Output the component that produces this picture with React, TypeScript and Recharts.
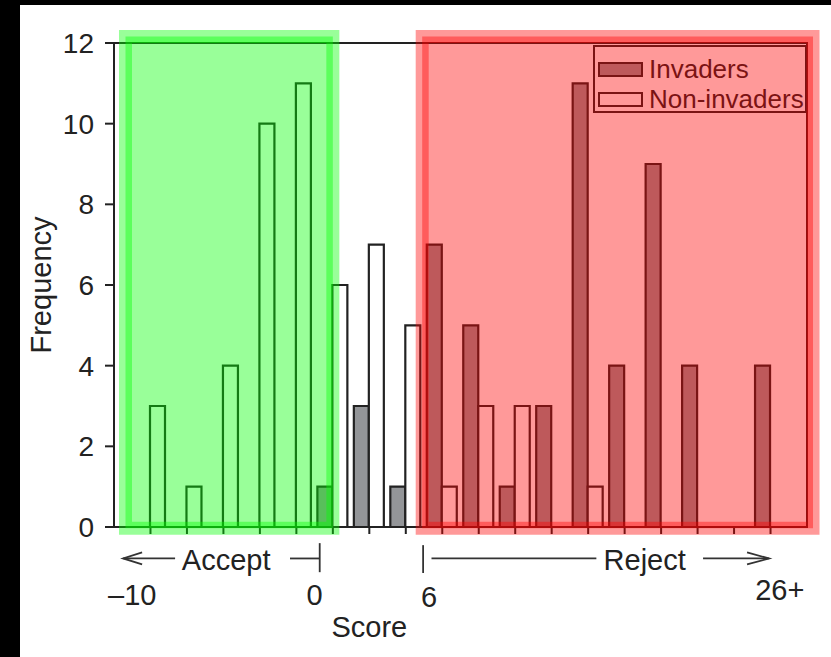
import React from 'react';
import { BarChart, Bar, XAxis, YAxis, Legend, ReferenceArea, ReferenceLine, ReferenceDot } from 'recharts';

const FONT = '"Liberation Sans", Arial, Helvetica, sans-serif';
const INK = '#222';
const NOTE_INK = '#333';

// histogram bins (centre of each 2-point score bin)
const binCenters = [-9, -7, -5, -3, -1, 1, 3, 5, 7, 9, 11, 13, 15, 17, 19, 21, 23, 25];
const invaders = [0, 0, 0, 0, 0, 1, 3, 1, 7, 5, 1, 3, 11, 4, 9, 4, 0, 4];
const nonInvaders = [3, 1, 4, 10, 11, 6, 7, 5, 1, 3, 3, 0, 1, 0, 0, 0, 0, 0];

const seriesNames = ['Invaders', 'Non-invaders'];
const seriesFills = ['#939598', '#ffffff'];

const scoreDomain = [-11, 27];
const scoreTicks = [-10, 0, 6, 26];
const scoreTickLabels = ['–10', '0', '6', '26+'];
const freqTicks = [0, 2, 4, 6, 8, 10, 12];

// shaded decision regions: [x1, x2, y1, y2]
const acceptRegion = [-10.37, 1.0, -0.03, 12.16];
const rejectRegion = [5.9, 27.33, -0.03, 12.16];

// bracket lines under the axis: [x1, y1, x2, y2]
const noteSegments = [
  [-10.5, -0.78, -7.65, -0.78],
  [-1.35, -0.78, 0.28, -0.78],
  [0.28, -0.4, 0.28, -1.12],
  [5.95, -0.45, 5.95, -1.14],
  [6.41, -0.78, 15.45, -0.78],
  [21.3, -0.78, 24.92, -0.78],
];
const noteHeads = ['start', 'none', 'none', 'none', 'none', 'end'];

const noteTexts = ['Accept', 'Reject', 'Score'];
const noteTextX = [-4.85, 18.1, 3];
const noteTextY = [-0.82, -0.82, -2.48];

const data = binCenters.map((bin, i) => ({ bin, invaders: invaders[i], nonInvaders: nonInvaders[i] }));

const tickNudge = [
  { dx: 0, dy: 0 },
  { dx: 0, dy: 0 },
  { dx: 5, dy: 2 },
  { dx: -9, dy: -5 },
];

const ScoreTick = ({ x, y, payload }: any) => {
  const i = scoreTicks.indexOf(payload.value);
  if (i < 0) return null;
  return (
    <text
      x={x + tickNudge[i].dx}
      y={y + tickNudge[i].dy}
      dy="0.71em"
      textAnchor="middle"
      fill={INK}
      fontSize={29}
      fontFamily={FONT}
    >
      {scoreTickLabels[i]}
    </text>
  );
};

const FreqLabel = ({ viewBox }: any) => {
  const cx = viewBox.x + 31;
  const cy = viewBox.y + viewBox.height / 2;
  return (
    <text
      x={cx}
      y={cy}
      transform={`rotate(-90 ${cx} ${cy})`}
      textAnchor="middle"
      fill={INK}
      fontSize={29}
      fontFamily={FONT}
    >
      Frequency
    </text>
  );
};

const bracketShape = (head: string) => (p: any) => {
  const { x1, y1, x2, y2 } = p;
  const arms: string[] = [];
  if (head === 'start') arms.push(`M${x1 + 19},${y1 - 6}L${x1},${y1}L${x1 + 19},${y1 + 6}`);
  if (head === 'end') arms.push(`M${x2 - 22},${y2 - 6}L${x2},${y2}L${x2 - 22},${y2 + 6}`);
  return (
    <g>
      <line x1={x1} y1={y1} x2={x2} y2={y2} stroke={NOTE_INK} strokeWidth={1.8} />
      {arms.map((d) => (
        <path key={d} d={d} fill="none" stroke={NOTE_INK} strokeWidth={1.8} />
      ))}
    </g>
  );
};

const LegendBox = () => (
  <div
    style={{
      border: `2px solid ${INK}`,
      padding: '7px 2px 0 3px',
      width: 214,
      height: 68,
      boxSizing: 'border-box',
      whiteSpace: 'nowrap',
      fontFamily: FONT,
      fontSize: 26,
      color: INK,
    }}
  >
    {seriesNames.map((name, i) => (
      <div key={name} style={{ display: 'flex', alignItems: 'center', height: 30 }}>
        <span
          style={{
            display: 'inline-block',
            flex: 'none',
            width: 41,
            height: 11,
            border: `2px solid ${INK}`,
            background: seriesFills[i],
            marginRight: 6,
          }}
        />
        <span>{name}</span>
      </div>
    ))}
  </div>
);

export default function App() {
  const line = { stroke: INK, strokeWidth: 2 };
  return (
    <div style={{ position: 'fixed', inset: 0, background: '#000' }}>
      <div style={{ position: 'absolute', left: 20, top: 5, width: 811, height: 652, background: '#fff', zIndex: 0 }}>
        <BarChart
          width={811}
          height={652}
          data={data}
          margin={{ top: 38, right: 24, bottom: 20, left: 0 }}
          barCategoryGap={2.76}
          barGap={0}
        >
          <XAxis
            dataKey="bin"
            type="category"
            interval={0}
            padding={{ left: 18.24, right: 18.24 }}
            tickFormatter={() => ''}
            tickSize={7}
            tickLine={line}
            axisLine={line}
            height={30}
          />
          <XAxis
            xAxisId="score"
            dataKey="bin"
            type="number"
            domain={scoreDomain}
            allowDataOverflow
            ticks={scoreTicks}
            interval={0}
            tick={<ScoreTick />}
            tickLine={false}
            tickSize={0}
            tickMargin={27}
            axisLine={false}
            height={80}
          />
          <YAxis
            type="number"
            domain={[0, 12]}
            allowDataOverflow
            ticks={freqTicks}
            interval={0}
            width={94}
            tickSize={9}
            tickMargin={11}
            tickLine={line}
            axisLine={line}
            tick={{ fill: INK, fontSize: 28, fontFamily: FONT }}
            label={{ content: <FreqLabel /> }}
          />
          <Legend
            content={<LegendBox />}
            layout="vertical"
            align="center"
            verticalAlign="middle"
            wrapperStyle={{ left: 573, top: 40, width: 214, height: 68, zIndex: -1 }}
          />
          <Bar dataKey="invaders" name={seriesNames[0]} fill={seriesFills[0]} stroke={INK} strokeWidth={2.2} isAnimationActive={false} />
          <Bar dataKey="nonInvaders" name={seriesNames[1]} fill={seriesFills[1]} stroke={INK} strokeWidth={2.2} isAnimationActive={false} />
          <ReferenceArea
            xAxisId="score"
            x1={scoreDomain[0]}
            x2={scoreDomain[1]}
            y1={0}
            y2={12}
            ifOverflow="visible"
            fill="none"
            stroke={INK}
            strokeWidth={2}
            zIndex={450}
          />
          {[acceptRegion, rejectRegion].map((r, i) => {
            const c = i === 0 ? '#00ff00' : '#ff0000';
            return (
              <ReferenceArea
                key={i}
                xAxisId="score"
                x1={r[0]}
                x2={r[1]}
                y1={r[2]}
                y2={r[3]}
                ifOverflow="visible"
                fill={c}
                fillOpacity={0.4}
                stroke={c}
                strokeOpacity={0.4}
                strokeWidth={13}
                zIndex={800}
              />
            );
          })}
          {noteSegments.map((s, i) => (
            <ReferenceLine
              key={`seg${i}`}
              xAxisId="score"
              segment={[
                { x: s[0], y: s[1] },
                { x: s[2], y: s[3] },
              ]}
              ifOverflow="visible"
              shape={bracketShape(noteHeads[i])}
            />
          ))}
          {noteTexts.map((t, i) => (
            <ReferenceDot
              key={t}
              xAxisId="score"
              x={noteTextX[i]}
              y={noteTextY[i]}
              r={0}
              fill="none"
              stroke="none"
              ifOverflow="visible"
              label={{ value: t, position: 'center', fill: INK, fontSize: 29, fontFamily: FONT }}
            />
          ))}
        </BarChart>
      </div>
    </div>
  );
}
